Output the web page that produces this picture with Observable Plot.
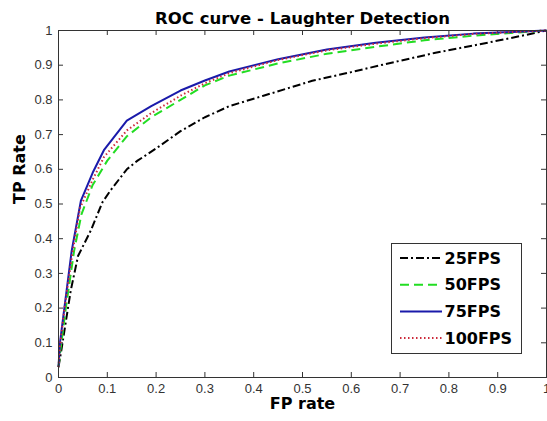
<!DOCTYPE html>
<html><head><meta charset="utf-8">
<script src="https://cdn.jsdelivr.net/npm/d3@7"></script>
<script src="https://cdn.jsdelivr.net/npm/@observablehq/plot@0.6"></script>
<style>
body{margin:0;background:#fff}
#chart{width:547px;height:421px}
</style>
</head><body><div id="chart"></div>
<script>
const seriesNames = ["25FPS", "50FPS", "75FPS", "100FPS"];

const fp25 = [0, 0.006, 0.025, 0.04, 0.066, 0.09, 0.107, 0.14, 0.162, 0.2, 0.25, 0.3, 0.35, 0.42, 0.52, 0.6, 0.66, 0.77, 0.88, 0.95, 1];
const tp25 = [0.03, 0.08, 0.25, 0.35, 0.423, 0.505, 0.54, 0.60, 0.625, 0.66, 0.71, 0.75, 0.782, 0.812, 0.855, 0.88, 0.90, 0.935, 0.965, 0.985, 1];

const fp50 = [0, 0.004, 0.015, 0.032, 0.047, 0.07, 0.1, 0.14, 0.19, 0.25, 0.30, 0.35, 0.45, 0.55, 0.65, 0.75, 0.85, 0.95, 1];
const tp50 = [0.03, 0.08, 0.2, 0.365, 0.47, 0.555, 0.625, 0.695, 0.75, 0.80, 0.842, 0.87, 0.905, 0.933, 0.953, 0.972, 0.985, 0.995, 1];

const fp75 = [0, 0.003, 0.012, 0.027, 0.046, 0.07, 0.093, 0.14, 0.19, 0.25, 0.30, 0.35, 0.45, 0.55, 0.65, 0.75, 0.85, 0.95, 1];
const tp75 = [0.03, 0.10, 0.20, 0.365, 0.51, 0.59, 0.655, 0.74, 0.782, 0.827, 0.856, 0.882, 0.917, 0.945, 0.965, 0.98, 0.991, 0.997, 1];

const fp100 = [0, 0.003, 0.012, 0.028, 0.044, 0.07, 0.093, 0.14, 0.19, 0.25, 0.30, 0.35, 0.45, 0.55, 0.65, 0.75, 0.85, 0.95, 1];
const tp100 = [0.03, 0.09, 0.195, 0.355, 0.488, 0.57, 0.635, 0.712, 0.762, 0.812, 0.848, 0.877, 0.915, 0.943, 0.962, 0.978, 0.99, 0.997, 1];

const xTicks = [0, 0.1, 0.2, 0.3, 0.4, 0.5, 0.6, 0.7, 0.8, 0.9, 1];
const xTickLabels = ["0", "0.1", "0.2", "0.3", "0.4", "0.5", "0.6", "0.7", "0.8", "0.9", "1"];
const yTicks = [0, 0.1, 0.2, 0.3, 0.4, 0.5, 0.6, 0.7, 0.8, 0.9, 1];
const yTickLabels = ["0", "0.1", "0.2", "0.3", "0.4", "0.5", "0.6", "0.7", "0.8", "0.9", "1"];

const titleText = "ROC curve - Laughter Detection";
const xLabel = "FP rate";
const yLabel = "TP Rate";

const styles = {
  "25FPS":  {stroke: "#000000", dash: "8,3,2,3"},
  "50FPS":  {stroke: "#22dd22", dash: "9,5"},
  "75FPS":  {stroke: "#1a1aaa", dash: null},
  "100FPS": {stroke: "#cc2a3a", dash: "1.5,2.5"}
};

const fps = [fp25, fp50, fp75, fp100];
const tps = [tp25, tp50, tp75, tp100];
const rows = [];
seriesNames.forEach((s, k) => fps[k].forEach((x, i) => rows.push({series: s, fp: x, tp: tps[k][i]})));

const W = 547, H = 421, mL = 58, mR = 1, mT = 30, mB = 44;
const innerW = W - mL - mR, innerH = H - mT - mB;
const boldFont = "'DejaVu Sans', sans-serif";
const tickFont = "'Liberation Sans', Arial, sans-serif";

const lineMarks = seriesNames.map(s => Plot.line(rows.filter(r => r.series === s), {
  x: "fp", y: "tp", stroke: styles[s].stroke, strokeWidth: 2,
  strokeDasharray: styles[s].dash, strokeLinejoin: "round", strokeLinecap: "butt"
}));

const plot = Plot.plot({
  width: W, height: H,
  marginLeft: mL, marginRight: mR, marginTop: mT, marginBottom: mB,
  style: {background: "#fff", fontFamily: tickFont, overflow: "visible"},
  x: {domain: [0, 1]},
  y: {domain: [0, 1]},
  marks: [
    Plot.axisX(xTicks, {tickSize: 0, tickPadding: 6, fontSize: 13, fill: "#333",
      tickFormat: d => xTickLabels[xTicks.indexOf(d)], label: null}),
    Plot.axisY(yTicks, {tickSize: 0, tickPadding: 6, fontSize: 13, fill: "#333",
      tickFormat: d => yTickLabels[yTicks.indexOf(d)], label: null}),
    Plot.tickX(xTicks, {x: d => d, insetTop: innerH - 5, stroke: "#333"}),
    Plot.tickX(xTicks, {x: d => d, insetBottom: innerH - 5, stroke: "#333"}),
    Plot.tickY(yTicks, {y: d => d, insetRight: innerW - 5, stroke: "#333"}),
    Plot.tickY(yTicks, {y: d => d, insetLeft: innerW - 5, stroke: "#333"}),
    ...lineMarks,
    Plot.frame({stroke: "#333", strokeWidth: 1}),
    Plot.text([titleText], {frameAnchor: "top", dy: -18, fontSize: 16.5, fontWeight: "bold", fontFamily: boldFont, fill: "#000"}),
    Plot.text([xLabel], {frameAnchor: "bottom", dy: 31.5, fontSize: 16, fontWeight: "bold", fontFamily: boldFont, fill: "#000"}),
    Plot.text([yLabel], {frameAnchor: "left", dx: -38.5, rotate: -90, fontSize: 16, fontWeight: "bold", fontFamily: boldFont, fill: "#000"})
  ]
});

// Legend (MATLAB-style box inside axes)
const svg = d3.select(plot);
const lg = svg.append("g").attr("class", "legend").attr("text-anchor", "start");
lg.append("rect").attr("x", 391.5).attr("y", 243.5).attr("width", 130).attr("height", 110)
  .attr("fill", "#fff").attr("stroke", "#333").attr("stroke-width", 1);
seriesNames.forEach((s, i) => {
  const y = 258 + i * 26.7;
  lg.append("line").attr("x1", 400).attr("x2", 442).attr("y1", y).attr("y2", y)
    .attr("stroke", styles[s].stroke).attr("stroke-width", 2)
    .attr("stroke-dasharray", styles[s].dash);
  lg.append("text").attr("x", 444.5).attr("y", y).attr("dy", "0.36em")
    .attr("text-anchor", "start")
    .attr("font-family", boldFont).attr("font-weight", "bold").attr("font-size", 16)
    .attr("fill", "#000").text(s);
});

document.getElementById("chart").appendChild(plot);
</script>
</body></html>
